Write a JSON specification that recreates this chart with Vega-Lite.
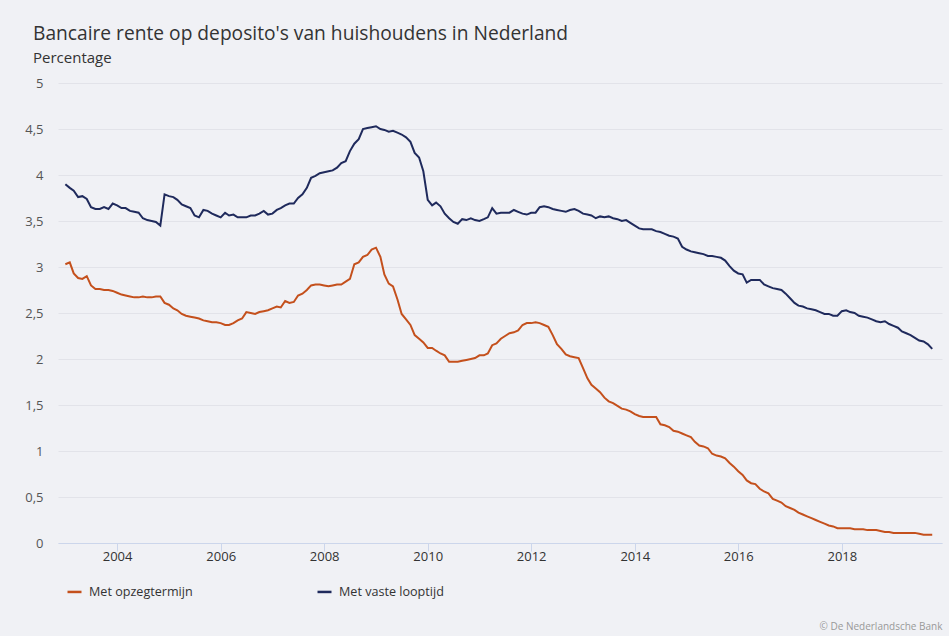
{
  "$schema": "https://vega.github.io/schema/vega-lite/v6.json",
  "width": 884,
  "height": 460,
  "autosize": {"type": "none"},
  "padding": {"left": 58, "top": 83, "right": 7, "bottom": 93},
  "background": "#f0f1f5",
  "title": {
    "text": "Bancaire rente op deposito's van huishoudens in Nederland",
    "subtitle": "Percentage",
    "anchor": "start",
    "frame": "group",
    "dx": -25,
    "offset": 11,
    "fontSize": 19.2,
    "fontWeight": "normal",
    "color": "#333333",
    "subtitleFontSize": 15,
    "subtitleColor": "#333333",
    "subtitlePadding": 7
  },
  "data": {
    "values": [
      {"d": "2003-01-01", "Met opzegtermijn": 3.03, "Met vaste looptijd": 3.90},
      {"d": "2003-02-01", "Met opzegtermijn": 3.05, "Met vaste looptijd": 3.86},
      {"d": "2003-03-01", "Met opzegtermijn": 2.93, "Met vaste looptijd": 3.83},
      {"d": "2003-04-01", "Met opzegtermijn": 2.88, "Met vaste looptijd": 3.76},
      {"d": "2003-05-01", "Met opzegtermijn": 2.87, "Met vaste looptijd": 3.77},
      {"d": "2003-06-01", "Met opzegtermijn": 2.90, "Met vaste looptijd": 3.74},
      {"d": "2003-07-01", "Met opzegtermijn": 2.80, "Met vaste looptijd": 3.65},
      {"d": "2003-08-01", "Met opzegtermijn": 2.76, "Met vaste looptijd": 3.63},
      {"d": "2003-09-01", "Met opzegtermijn": 2.76, "Met vaste looptijd": 3.63},
      {"d": "2003-10-01", "Met opzegtermijn": 2.75, "Met vaste looptijd": 3.65},
      {"d": "2003-11-01", "Met opzegtermijn": 2.75, "Met vaste looptijd": 3.63},
      {"d": "2003-12-01", "Met opzegtermijn": 2.74, "Met vaste looptijd": 3.69},
      {"d": "2004-01-01", "Met opzegtermijn": 2.72, "Met vaste looptijd": 3.67},
      {"d": "2004-02-01", "Met opzegtermijn": 2.70, "Met vaste looptijd": 3.64},
      {"d": "2004-03-01", "Met opzegtermijn": 2.69, "Met vaste looptijd": 3.64},
      {"d": "2004-04-01", "Met opzegtermijn": 2.68, "Met vaste looptijd": 3.61},
      {"d": "2004-05-01", "Met opzegtermijn": 2.67, "Met vaste looptijd": 3.60},
      {"d": "2004-06-01", "Met opzegtermijn": 2.67, "Met vaste looptijd": 3.59},
      {"d": "2004-07-01", "Met opzegtermijn": 2.68, "Met vaste looptijd": 3.53},
      {"d": "2004-08-01", "Met opzegtermijn": 2.67, "Met vaste looptijd": 3.51},
      {"d": "2004-09-01", "Met opzegtermijn": 2.67, "Met vaste looptijd": 3.50},
      {"d": "2004-10-01", "Met opzegtermijn": 2.68, "Met vaste looptijd": 3.49},
      {"d": "2004-11-01", "Met opzegtermijn": 2.68, "Met vaste looptijd": 3.45},
      {"d": "2004-12-01", "Met opzegtermijn": 2.61, "Met vaste looptijd": 3.79},
      {"d": "2005-01-01", "Met opzegtermijn": 2.59, "Met vaste looptijd": 3.77},
      {"d": "2005-02-01", "Met opzegtermijn": 2.55, "Met vaste looptijd": 3.76},
      {"d": "2005-03-01", "Met opzegtermijn": 2.53, "Met vaste looptijd": 3.73},
      {"d": "2005-04-01", "Met opzegtermijn": 2.49, "Met vaste looptijd": 3.68},
      {"d": "2005-05-01", "Met opzegtermijn": 2.47, "Met vaste looptijd": 3.66},
      {"d": "2005-06-01", "Met opzegtermijn": 2.46, "Met vaste looptijd": 3.64},
      {"d": "2005-07-01", "Met opzegtermijn": 2.45, "Met vaste looptijd": 3.56},
      {"d": "2005-08-01", "Met opzegtermijn": 2.44, "Met vaste looptijd": 3.54},
      {"d": "2005-09-01", "Met opzegtermijn": 2.42, "Met vaste looptijd": 3.62},
      {"d": "2005-10-01", "Met opzegtermijn": 2.41, "Met vaste looptijd": 3.61},
      {"d": "2005-11-01", "Met opzegtermijn": 2.40, "Met vaste looptijd": 3.58},
      {"d": "2005-12-01", "Met opzegtermijn": 2.40, "Met vaste looptijd": 3.56},
      {"d": "2006-01-01", "Met opzegtermijn": 2.39, "Met vaste looptijd": 3.54},
      {"d": "2006-02-01", "Met opzegtermijn": 2.37, "Met vaste looptijd": 3.59},
      {"d": "2006-03-01", "Met opzegtermijn": 2.37, "Met vaste looptijd": 3.56},
      {"d": "2006-04-01", "Met opzegtermijn": 2.39, "Met vaste looptijd": 3.57},
      {"d": "2006-05-01", "Met opzegtermijn": 2.42, "Met vaste looptijd": 3.54},
      {"d": "2006-06-01", "Met opzegtermijn": 2.44, "Met vaste looptijd": 3.54},
      {"d": "2006-07-01", "Met opzegtermijn": 2.51, "Met vaste looptijd": 3.54},
      {"d": "2006-08-01", "Met opzegtermijn": 2.50, "Met vaste looptijd": 3.56},
      {"d": "2006-09-01", "Met opzegtermijn": 2.49, "Met vaste looptijd": 3.56},
      {"d": "2006-10-01", "Met opzegtermijn": 2.51, "Met vaste looptijd": 3.58},
      {"d": "2006-11-01", "Met opzegtermijn": 2.52, "Met vaste looptijd": 3.61},
      {"d": "2006-12-01", "Met opzegtermijn": 2.53, "Met vaste looptijd": 3.57},
      {"d": "2007-01-01", "Met opzegtermijn": 2.55, "Met vaste looptijd": 3.58},
      {"d": "2007-02-01", "Met opzegtermijn": 2.57, "Met vaste looptijd": 3.62},
      {"d": "2007-03-01", "Met opzegtermijn": 2.56, "Met vaste looptijd": 3.64},
      {"d": "2007-04-01", "Met opzegtermijn": 2.63, "Met vaste looptijd": 3.67},
      {"d": "2007-05-01", "Met opzegtermijn": 2.61, "Met vaste looptijd": 3.69},
      {"d": "2007-06-01", "Met opzegtermijn": 2.62, "Met vaste looptijd": 3.69},
      {"d": "2007-07-01", "Met opzegtermijn": 2.69, "Met vaste looptijd": 3.75},
      {"d": "2007-08-01", "Met opzegtermijn": 2.71, "Met vaste looptijd": 3.79},
      {"d": "2007-09-01", "Met opzegtermijn": 2.75, "Met vaste looptijd": 3.86},
      {"d": "2007-10-01", "Met opzegtermijn": 2.80, "Met vaste looptijd": 3.97},
      {"d": "2007-11-01", "Met opzegtermijn": 2.81, "Met vaste looptijd": 3.99},
      {"d": "2007-12-01", "Met opzegtermijn": 2.81, "Met vaste looptijd": 4.02},
      {"d": "2008-01-01", "Met opzegtermijn": 2.80, "Met vaste looptijd": 4.03},
      {"d": "2008-02-01", "Met opzegtermijn": 2.79, "Met vaste looptijd": 4.04},
      {"d": "2008-03-01", "Met opzegtermijn": 2.80, "Met vaste looptijd": 4.05},
      {"d": "2008-04-01", "Met opzegtermijn": 2.81, "Met vaste looptijd": 4.08},
      {"d": "2008-05-01", "Met opzegtermijn": 2.81, "Met vaste looptijd": 4.13},
      {"d": "2008-06-01", "Met opzegtermijn": 2.84, "Met vaste looptijd": 4.15},
      {"d": "2008-07-01", "Met opzegtermijn": 2.87, "Met vaste looptijd": 4.26},
      {"d": "2008-08-01", "Met opzegtermijn": 3.03, "Met vaste looptijd": 4.34},
      {"d": "2008-09-01", "Met opzegtermijn": 3.05, "Met vaste looptijd": 4.39},
      {"d": "2008-10-01", "Met opzegtermijn": 3.11, "Met vaste looptijd": 4.50},
      {"d": "2008-11-01", "Met opzegtermijn": 3.13, "Met vaste looptijd": 4.51},
      {"d": "2008-12-01", "Met opzegtermijn": 3.19, "Met vaste looptijd": 4.52},
      {"d": "2009-01-01", "Met opzegtermijn": 3.21, "Met vaste looptijd": 4.53},
      {"d": "2009-02-01", "Met opzegtermijn": 3.11, "Met vaste looptijd": 4.50},
      {"d": "2009-03-01", "Met opzegtermijn": 2.92, "Met vaste looptijd": 4.49},
      {"d": "2009-04-01", "Met opzegtermijn": 2.82, "Met vaste looptijd": 4.47},
      {"d": "2009-05-01", "Met opzegtermijn": 2.79, "Met vaste looptijd": 4.48},
      {"d": "2009-06-01", "Met opzegtermijn": 2.65, "Met vaste looptijd": 4.46},
      {"d": "2009-07-01", "Met opzegtermijn": 2.49, "Met vaste looptijd": 4.44},
      {"d": "2009-08-01", "Met opzegtermijn": 2.43, "Met vaste looptijd": 4.41},
      {"d": "2009-09-01", "Met opzegtermijn": 2.37, "Met vaste looptijd": 4.36},
      {"d": "2009-10-01", "Met opzegtermijn": 2.26, "Met vaste looptijd": 4.24},
      {"d": "2009-11-01", "Met opzegtermijn": 2.22, "Met vaste looptijd": 4.19},
      {"d": "2009-12-01", "Met opzegtermijn": 2.18, "Met vaste looptijd": 4.04},
      {"d": "2010-01-01", "Met opzegtermijn": 2.12, "Met vaste looptijd": 3.73},
      {"d": "2010-02-01", "Met opzegtermijn": 2.12, "Met vaste looptijd": 3.67},
      {"d": "2010-03-01", "Met opzegtermijn": 2.09, "Met vaste looptijd": 3.70},
      {"d": "2010-04-01", "Met opzegtermijn": 2.06, "Met vaste looptijd": 3.66},
      {"d": "2010-05-01", "Met opzegtermijn": 2.04, "Met vaste looptijd": 3.58},
      {"d": "2010-06-01", "Met opzegtermijn": 1.97, "Met vaste looptijd": 3.53},
      {"d": "2010-07-01", "Met opzegtermijn": 1.97, "Met vaste looptijd": 3.49},
      {"d": "2010-08-01", "Met opzegtermijn": 1.97, "Met vaste looptijd": 3.47},
      {"d": "2010-09-01", "Met opzegtermijn": 1.98, "Met vaste looptijd": 3.52},
      {"d": "2010-10-01", "Met opzegtermijn": 1.99, "Met vaste looptijd": 3.51},
      {"d": "2010-11-01", "Met opzegtermijn": 2.00, "Met vaste looptijd": 3.53},
      {"d": "2010-12-01", "Met opzegtermijn": 2.01, "Met vaste looptijd": 3.51},
      {"d": "2011-01-01", "Met opzegtermijn": 2.04, "Met vaste looptijd": 3.50},
      {"d": "2011-02-01", "Met opzegtermijn": 2.04, "Met vaste looptijd": 3.52},
      {"d": "2011-03-01", "Met opzegtermijn": 2.06, "Met vaste looptijd": 3.54},
      {"d": "2011-04-01", "Met opzegtermijn": 2.15, "Met vaste looptijd": 3.64},
      {"d": "2011-05-01", "Met opzegtermijn": 2.17, "Met vaste looptijd": 3.58},
      {"d": "2011-06-01", "Met opzegtermijn": 2.22, "Met vaste looptijd": 3.59},
      {"d": "2011-07-01", "Met opzegtermijn": 2.25, "Met vaste looptijd": 3.59},
      {"d": "2011-08-01", "Met opzegtermijn": 2.28, "Met vaste looptijd": 3.59},
      {"d": "2011-09-01", "Met opzegtermijn": 2.29, "Met vaste looptijd": 3.62},
      {"d": "2011-10-01", "Met opzegtermijn": 2.31, "Met vaste looptijd": 3.60},
      {"d": "2011-11-01", "Met opzegtermijn": 2.37, "Met vaste looptijd": 3.58},
      {"d": "2011-12-01", "Met opzegtermijn": 2.39, "Met vaste looptijd": 3.57},
      {"d": "2012-01-01", "Met opzegtermijn": 2.39, "Met vaste looptijd": 3.59},
      {"d": "2012-02-01", "Met opzegtermijn": 2.40, "Met vaste looptijd": 3.59},
      {"d": "2012-03-01", "Met opzegtermijn": 2.39, "Met vaste looptijd": 3.65},
      {"d": "2012-04-01", "Met opzegtermijn": 2.37, "Met vaste looptijd": 3.66},
      {"d": "2012-05-01", "Met opzegtermijn": 2.35, "Met vaste looptijd": 3.65},
      {"d": "2012-06-01", "Met opzegtermijn": 2.26, "Met vaste looptijd": 3.63},
      {"d": "2012-07-01", "Met opzegtermijn": 2.16, "Met vaste looptijd": 3.62},
      {"d": "2012-08-01", "Met opzegtermijn": 2.11, "Met vaste looptijd": 3.61},
      {"d": "2012-09-01", "Met opzegtermijn": 2.05, "Met vaste looptijd": 3.60},
      {"d": "2012-10-01", "Met opzegtermijn": 2.03, "Met vaste looptijd": 3.62},
      {"d": "2012-11-01", "Met opzegtermijn": 2.02, "Met vaste looptijd": 3.63},
      {"d": "2012-12-01", "Met opzegtermijn": 2.01, "Met vaste looptijd": 3.61},
      {"d": "2013-01-01", "Met opzegtermijn": 1.90, "Met vaste looptijd": 3.58},
      {"d": "2013-02-01", "Met opzegtermijn": 1.79, "Met vaste looptijd": 3.57},
      {"d": "2013-03-01", "Met opzegtermijn": 1.72, "Met vaste looptijd": 3.56},
      {"d": "2013-04-01", "Met opzegtermijn": 1.68, "Met vaste looptijd": 3.53},
      {"d": "2013-05-01", "Met opzegtermijn": 1.64, "Met vaste looptijd": 3.55},
      {"d": "2013-06-01", "Met opzegtermijn": 1.58, "Met vaste looptijd": 3.54},
      {"d": "2013-07-01", "Met opzegtermijn": 1.54, "Met vaste looptijd": 3.55},
      {"d": "2013-08-01", "Met opzegtermijn": 1.52, "Met vaste looptijd": 3.53},
      {"d": "2013-09-01", "Met opzegtermijn": 1.49, "Met vaste looptijd": 3.52},
      {"d": "2013-10-01", "Met opzegtermijn": 1.46, "Met vaste looptijd": 3.50},
      {"d": "2013-11-01", "Met opzegtermijn": 1.45, "Met vaste looptijd": 3.51},
      {"d": "2013-12-01", "Met opzegtermijn": 1.43, "Met vaste looptijd": 3.48},
      {"d": "2014-01-01", "Met opzegtermijn": 1.40, "Met vaste looptijd": 3.45},
      {"d": "2014-02-01", "Met opzegtermijn": 1.38, "Met vaste looptijd": 3.42},
      {"d": "2014-03-01", "Met opzegtermijn": 1.37, "Met vaste looptijd": 3.41},
      {"d": "2014-04-01", "Met opzegtermijn": 1.37, "Met vaste looptijd": 3.41},
      {"d": "2014-05-01", "Met opzegtermijn": 1.37, "Met vaste looptijd": 3.41},
      {"d": "2014-06-01", "Met opzegtermijn": 1.37, "Met vaste looptijd": 3.39},
      {"d": "2014-07-01", "Met opzegtermijn": 1.29, "Met vaste looptijd": 3.38},
      {"d": "2014-08-01", "Met opzegtermijn": 1.28, "Met vaste looptijd": 3.36},
      {"d": "2014-09-01", "Met opzegtermijn": 1.26, "Met vaste looptijd": 3.34},
      {"d": "2014-10-01", "Met opzegtermijn": 1.22, "Met vaste looptijd": 3.33},
      {"d": "2014-11-01", "Met opzegtermijn": 1.21, "Met vaste looptijd": 3.31},
      {"d": "2014-12-01", "Met opzegtermijn": 1.19, "Met vaste looptijd": 3.22},
      {"d": "2015-01-01", "Met opzegtermijn": 1.17, "Met vaste looptijd": 3.19},
      {"d": "2015-02-01", "Met opzegtermijn": 1.15, "Met vaste looptijd": 3.17},
      {"d": "2015-03-01", "Met opzegtermijn": 1.10, "Met vaste looptijd": 3.16},
      {"d": "2015-04-01", "Met opzegtermijn": 1.06, "Met vaste looptijd": 3.15},
      {"d": "2015-05-01", "Met opzegtermijn": 1.05, "Met vaste looptijd": 3.14},
      {"d": "2015-06-01", "Met opzegtermijn": 1.03, "Met vaste looptijd": 3.12},
      {"d": "2015-07-01", "Met opzegtermijn": 0.97, "Met vaste looptijd": 3.12},
      {"d": "2015-08-01", "Met opzegtermijn": 0.95, "Met vaste looptijd": 3.11},
      {"d": "2015-09-01", "Met opzegtermijn": 0.94, "Met vaste looptijd": 3.10},
      {"d": "2015-10-01", "Met opzegtermijn": 0.92, "Met vaste looptijd": 3.07},
      {"d": "2015-11-01", "Met opzegtermijn": 0.87, "Met vaste looptijd": 3.01},
      {"d": "2015-12-01", "Met opzegtermijn": 0.83, "Met vaste looptijd": 2.96},
      {"d": "2016-01-01", "Met opzegtermijn": 0.78, "Met vaste looptijd": 2.93},
      {"d": "2016-02-01", "Met opzegtermijn": 0.74, "Met vaste looptijd": 2.92},
      {"d": "2016-03-01", "Met opzegtermijn": 0.68, "Met vaste looptijd": 2.83},
      {"d": "2016-04-01", "Met opzegtermijn": 0.65, "Met vaste looptijd": 2.86},
      {"d": "2016-05-01", "Met opzegtermijn": 0.64, "Met vaste looptijd": 2.86},
      {"d": "2016-06-01", "Met opzegtermijn": 0.59, "Met vaste looptijd": 2.86},
      {"d": "2016-07-01", "Met opzegtermijn": 0.56, "Met vaste looptijd": 2.81},
      {"d": "2016-08-01", "Met opzegtermijn": 0.54, "Met vaste looptijd": 2.79},
      {"d": "2016-09-01", "Met opzegtermijn": 0.48, "Met vaste looptijd": 2.77},
      {"d": "2016-10-01", "Met opzegtermijn": 0.46, "Met vaste looptijd": 2.76},
      {"d": "2016-11-01", "Met opzegtermijn": 0.44, "Met vaste looptijd": 2.75},
      {"d": "2016-12-01", "Met opzegtermijn": 0.40, "Met vaste looptijd": 2.71},
      {"d": "2017-01-01", "Met opzegtermijn": 0.38, "Met vaste looptijd": 2.66},
      {"d": "2017-02-01", "Met opzegtermijn": 0.36, "Met vaste looptijd": 2.61},
      {"d": "2017-03-01", "Met opzegtermijn": 0.33, "Met vaste looptijd": 2.58},
      {"d": "2017-04-01", "Met opzegtermijn": 0.31, "Met vaste looptijd": 2.57},
      {"d": "2017-05-01", "Met opzegtermijn": 0.29, "Met vaste looptijd": 2.55},
      {"d": "2017-06-01", "Met opzegtermijn": 0.27, "Met vaste looptijd": 2.54},
      {"d": "2017-07-01", "Met opzegtermijn": 0.25, "Met vaste looptijd": 2.53},
      {"d": "2017-08-01", "Met opzegtermijn": 0.23, "Met vaste looptijd": 2.51},
      {"d": "2017-09-01", "Met opzegtermijn": 0.21, "Met vaste looptijd": 2.49},
      {"d": "2017-10-01", "Met opzegtermijn": 0.19, "Met vaste looptijd": 2.49},
      {"d": "2017-11-01", "Met opzegtermijn": 0.18, "Met vaste looptijd": 2.47},
      {"d": "2017-12-01", "Met opzegtermijn": 0.16, "Met vaste looptijd": 2.47},
      {"d": "2018-01-01", "Met opzegtermijn": 0.16, "Met vaste looptijd": 2.52},
      {"d": "2018-02-01", "Met opzegtermijn": 0.16, "Met vaste looptijd": 2.53},
      {"d": "2018-03-01", "Met opzegtermijn": 0.16, "Met vaste looptijd": 2.51},
      {"d": "2018-04-01", "Met opzegtermijn": 0.15, "Met vaste looptijd": 2.50},
      {"d": "2018-05-01", "Met opzegtermijn": 0.15, "Met vaste looptijd": 2.47},
      {"d": "2018-06-01", "Met opzegtermijn": 0.15, "Met vaste looptijd": 2.46},
      {"d": "2018-07-01", "Met opzegtermijn": 0.14, "Met vaste looptijd": 2.45},
      {"d": "2018-08-01", "Met opzegtermijn": 0.14, "Met vaste looptijd": 2.43},
      {"d": "2018-09-01", "Met opzegtermijn": 0.14, "Met vaste looptijd": 2.41},
      {"d": "2018-10-01", "Met opzegtermijn": 0.13, "Met vaste looptijd": 2.40},
      {"d": "2018-11-01", "Met opzegtermijn": 0.12, "Met vaste looptijd": 2.41},
      {"d": "2018-12-01", "Met opzegtermijn": 0.12, "Met vaste looptijd": 2.38},
      {"d": "2019-01-01", "Met opzegtermijn": 0.11, "Met vaste looptijd": 2.36},
      {"d": "2019-02-01", "Met opzegtermijn": 0.11, "Met vaste looptijd": 2.34},
      {"d": "2019-03-01", "Met opzegtermijn": 0.11, "Met vaste looptijd": 2.30},
      {"d": "2019-04-01", "Met opzegtermijn": 0.11, "Met vaste looptijd": 2.28},
      {"d": "2019-05-01", "Met opzegtermijn": 0.11, "Met vaste looptijd": 2.26},
      {"d": "2019-06-01", "Met opzegtermijn": 0.11, "Met vaste looptijd": 2.23},
      {"d": "2019-07-01", "Met opzegtermijn": 0.10, "Met vaste looptijd": 2.20},
      {"d": "2019-08-01", "Met opzegtermijn": 0.09, "Met vaste looptijd": 2.19},
      {"d": "2019-09-01", "Met opzegtermijn": 0.09, "Met vaste looptijd": 2.16},
      {"d": "2019-10-01", "Met opzegtermijn": 0.09, "Met vaste looptijd": 2.11}
    ]
  },
  "transform": [
    {"fold": ["Met opzegtermijn", "Met vaste looptijd"], "as": ["reeks", "rente"]}
  ],
  "mark": {"type": "line", "strokeWidth": 2},
  "encoding": {
    "x": {
      "field": "d",
      "type": "temporal",
      "scale": {"domain": ["2002-11-10", "2019-12-09"]},
      "axis": {
        "format": "%Y",
        "tickCount": {"interval": "year", "step": 2},
        "grid": false,
        "domainColor": "#ccd6eb",
        "tickColor": "#ccd6eb",
        "tickSize": 8,
        "labelPadding": -1,
        "labelColor": "#333333",
        "labelFontSize": 13,
        "title": "© De Nederlandsche Bank",
        "titleAnchor": "end",
        "titleFontSize": 10,
        "titleFontWeight": "normal",
        "titleColor": "#999999",
        "titlePadding": 58
      }
    },
    "y": {
      "field": "rente",
      "type": "quantitative",
      "scale": {"domain": [0, 5]},
      "axis": {
        "values": [0, 0.5, 1, 1.5, 2, 2.5, 3, 3.5, 4, 4.5, 5],
        "format": "~g",
        "labelExpr": "replace(datum.label, '.', ',')",
        "domain": false,
        "ticks": false,
        "gridColor": "#e2e3e9",
        "labelColor": "#555555",
        "labelFontSize": 13,
        "labelPadding": 15,
        "title": null
      }
    },
    "color": {
      "field": "reeks",
      "type": "nominal",
      "scale": {"domain": ["Met opzegtermijn", "Met vaste looptijd"], "range": ["#c4501c", "#1f2a5c"]},
      "legend": {
        "orient": "none",
        "legendX": 8,
        "legendY": 500,
        "direction": "horizontal",
        "title": null,
        "symbolType": "stroke",
        "symbolStrokeWidth": 2.5,
        "symbolSize": 196,
        "labelFontSize": 12.6,
        "labelColor": "#333333",
        "labelOffset": 6,
        "columnPadding": 119
      }
    }
  },
  "config": {
    "view": {"stroke": null},
    "font": "Open Sans"
  }
}
